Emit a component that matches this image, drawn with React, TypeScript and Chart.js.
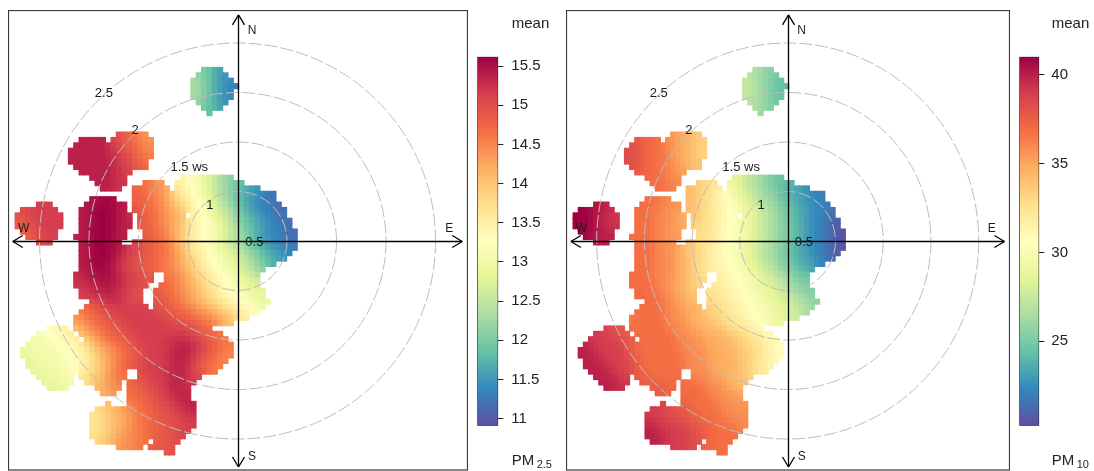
import React, { useEffect, useRef } from "react";
import { Chart, registerables } from "chart.js";

Chart.register(...registerables);

// Grid cells of each polar surface: "startColumn:levels" runs per row, a = lowest level, u = highest.
const pm25Rows: string[] = [
  "35:fedd","34:gfeddc","33:ggfeddcc","33:ggfeddccb","33:ggfeddcc","33:ggfeddcc","34:gfeddc","35:fedd","36:e","","","",
  "19:rrqqpo",
  "12:ttttt 18:srrqqppo",
  "11:tttttttssrrqqpp",
  "10:ttttttttssrrqqpp",
  "10:ttttttttsssrrqqp",
  "10:tttttttttssrrqq",
  "11:tttttttttssrrq",
  "12:tttttttsss",
  "14:tttttss 31:lkkjiihgff",
  "15:ttttss 24:qppo 30:llkjjiihggfee",
  "16:ttts 22:rqqqppo 30:mllkjjihggfeeddd",
  "22:rqqqpponmllkjjihggfeeddcccb",
  "14:ttuut 22:rqqqpponmllkjjihggfeddcccbb",
  "4:sss 13:ttuuuutt 22:rrqqqpponmmlkkjihhgfeddcccbb",
  "1:rssssss 12:ttuuuuutt 22:rrqqqppoonmlkkjihhgfeddcccbbb",
  "0:rrsssssss 12:ttuuuuuttt 23:rrqqppoon 33:lkkjihhgfeeddcccbb",
  "0:rrrssssss 12:ttuuuuuttt 23:rrqqppoonmllkkjiihgfeeddcccbb",
  "0:qrrrsssss 12:ttuuuuutts 23:rrqqqpoonmlkkkjiihgfeeddcccbb",
  "1:qrrssss 12:ttuuuuutt 24:rqqqpoonmlkkkjiihgffeddcccbbb",
  "2:qrrsss 11:tttuuuuutt 24:rrqqpoonmlkkkjiihggfeddccccbb",
  "4:rrs 12:ttuuuutt 22:srrrqqqponmllkkjiihggfeddccccbb",
  "12:ttuuuuuttssrrrqqqponmllkkjiihggfeeddccccb",
  "12:ttuuuuuttssrrrqqqpponmllkkjjiihggfeedddc",
  "12:ttuuuuutssrrrrqqqpponnmlkkjjiihhgfeeddc",
  "12:ttuuuutssrrrrqqqpponnmllkkjjiihggfeed",
  "12:ttuuuttssrrrrqqqqppoonmllkkjjiihhgf",
  "11:sttttuuuttsssrr 28:qqpponmmllkkjjihhg",
  "11:sttttuuttssssrr 28:qqppoonmmllkkjjiih",
  "11:sstttttttsssrr 27:rqqppoonmmllkkjjiih",
  "12:sstttttsssrr 26:rrqqppoonnmllkkkjjiii",
  "12:rsstttttssrr 26:rrqqqppoonmmllkkkjjii",
  "14:rssttsssrr 26:rrrqqppoonnmmllkkkjjii",
  "13:qrrrssssssss 26:rrrqqqppoonnmmlllkkkj",
  "12:pqqrrrsssssssssrrrrqqqpppoonmmllkk",
  "11:opqqqrrrsssssssssrrrrqqqqppoonnml",
  "11:opqqqrrrrssssssssssrrrrqqqppon",
  "6:klll 11:noopqqqrrrsssssssssssrrrqq",
  "4:jkkklll 12:noppqqqrrrssssssssssssrrqqp",
  "3:jjkkkkkll 13:nopqqqrrrsssssssssttssrrqqp",
  "2:jjjjjkkkkllmnoppqqrrrsssssttttt" + "sssrrqqp",
  "1:ijjjjjjkkkkllmnooppqqrrrsssssttttssrrqqp",
  "1:iijjjjjjkkkllmnooppqqrrssssstttttsrrqqpp",
  "2:iijjjjjkkkllmnoopqqrrrsssssttttsrrqqpp",
  "2:iijjjjjjkkllmnnopqqrrrssssstttsrrqqpp",
  "3:iijjjjjkkllmnnopqq 23:rsssssttttsrrqq",
  "4:iijjjjk 12:lmnnoppqq 23:rrsssstttsss",
  "5:iiijjj 13:mnnoppq 21:qrrrsssstttss",
  "6:iiij 15:noopp 21:qqrrrsssttts",
  "16:oop 21:qqqrrrssttts",
  "21:qqqrrrsssttt",
  "17:o 21:pqqqrrrrssttt",
  "15:mnnooopqqqrrrrssstt",
  "14:lmmnnooopqqqrrrrssst",
  "14:lmmnnooppqqqrrrrssss",
  "14:lmmnnooppqqqrrrrrsss",
  "14:lmmnnoopppqqqrrrrss",
  "14:mmnnoopppqqqrrrrss",
  "15:mnnoopppqq 26:rrrrs",
  "19:ppppq 25:qrrrr",
  "28:rr",
];

const pm10Rows: string[] = [
  "35:ggff","34:hggffe","33:hhggffee","33:hhggffeed","33:hhggffee","33:hhggffee","34:hggffe","35:ggff","36:g","","","",
  "19:pooonn",
  "12:rrqqq 18:ppooonnm",
  "11:rrrqqqqppooonnm",
  "10:srrrqqqqppooonnm",
  "10:srrrqqqqppooonnm",
  "10:srrrqqqqppooonn",
  "11:rrrqqqqpppoonn",
  "12:rrqqqqpppo",
  "14:qqqqppp 31:iihhggffee",
  "15:qqqqpp 24:nnmm 30:jiihhggffeeed",
  "16:qqqp 22:onnmmml 30:jiihhggffeeedddc",
  "22:onnmmllkkjiihhggffeedddcccb",
  "14:qqqqp 22:onnmmllkkjiihhggffeedddcccb",
  "4:utt 13:qqqqpppp 22:onnmmllkkjjiihhggffeedddcccb",
  "1:uuuttts 12:qqqqppppo 22:onnmmmllkkjjiihhggffeedddcccb",
  "0:uuuutttss 12:qqqqppppoo 23:nnmmllkkk 33:jiihhggfeeddccccbb",
  "0:uuuutttss 12:qqqqppppoo 23:nnmmllkkkjjiihhggffeeddcccbba",
  "0:uuuutttss 12:qqqqppppoo 23:nmmmllkkkjjiihhggffeeddcccbba",
  "1:uuutttt 12:qqqqppppo 24:mmmllkkkjjiihhggffeeddcccbbaa",
  "2:uutttt 11:qqqqqppppo 24:mmmllkkkjjiihhggffeeddcccbbaa",
  "4:ttt 12:qqqqpppo 22:nnmmmllkkkjjiihhggffeeddcccbbaa",
  "12:qqqqppppoonnmmllkkkjjiihhggffeeddccccbbaa",
  "12:qqqqppppoonnmmllkkkjjiihhggffeedddcccbba",
  "12:qqqqppppoonnmmlllkkkjjiihhggffeedddccbb",
  "12:qqqqppppoonnmmlllkkkjjiihhggffeedddcc",
  "12:qqqqppppoonnmmlllkkkjjiihhggffeeddd",
  "11:qqqqqppppoonnmm 28:lllkkkjjiihhggfffe",
  "11:qqqqqppppoonnmm 28:lllkkkjjiiihhggffe",
  "11:qqqqqpppooonnm 27:mlllkkkjjiiihhggffe",
  "12:qqqqqpppoonn 26:mmlllkkkjjjiiihhggffe",
  "12:rqqqqpppoonn 26:mmllllkkkjjjiihhhggff",
  "14:qqqqpppoon 26:nmmllllkkkjjjiiihhggff",
  "13:qqqqqpppooon 26:nmmmlllkkkjjjiiihhhgg",
  "12:qqqqqqppppooonnnmmmlllkkkjjjiihhgg",
  "11:pqqqqqqppppooonnnmmmlllkkkjjjiiih",
  "11:pqqqqqqppppooonnnmmmlllkkkjjji",
  "6:srrq 11:qqqqqqqqppppooooonnnmmmlll",
  "4:ssssrrr 12:qqqqqqqqppppooooonnnmmmllkk",
  "3:ssssssrrq 13:qqqqqqqpppppooooonnnmmmllkk",
  "2:ttssssssrrqqqqqqqqqpppppooooonnnmmmllkk",
  "1:tttssssssrrqqqqqqqqqpppppooooonnnmmmllkk",
  "1:ttttsssssrrqqqqqqqqqpppppoooooonnnmmllkk",
  "2:ttttsssssrrqqqqqqqqqpppppooooonnnmmllk",
  "2:ttttsssssrrqqqqqqqqqpppppooooonnmmllk",
  "3:ttttssssrrqqqqqqqq 23:ppppooooonnnmml",
  "4:ttttsss 12:rrqqqqqqq 23:ppppoooonnnm",
  "5:ttttss 13:rrqqqqq 21:qqqqppppooonn",
  "6:tttt 15:rrrqq 21:qqqqqppppooo",
  "16:rrr 21:qqqqqqppppoo",
  "21:rqqqqqpppppo",
  "17:r 21:rqqqqqqpppppo",
  "15:sssrrrrrqqqqqqppppp",
  "14:ssssrrrrrqqqqqqppppp",
  "14:tsssssrrrrqqqqqqpppp",
  "14:ttssssssrrrrqqqqqqpp",
  "14:tttssssssrrrqqqqqqp",
  "14:ttttsssssrrrrqqqqq",
  "15:tttssssssr 26:qqqqq",
  "19:sssrr 25:rqqqq",
  "28:qq",
];

const pm25Range = [10.91, 15.62];
const pm10Range = [20.24, 41.03];
const pm25Ticks = [11, 11.5, 12, 12.5, 13, 13.5, 14, 14.5, 15, 15.5];
const pm10Ticks = [25, 30, 35, 40];
const wsRings = [1, 1.5, 2, 2.5];
const spectral = ["#5E4FA2","#3288BD","#66C2A5","#ABDDA4","#E6F598","#FFFFBF","#FEE08B","#FDAE61","#F46D43","#D53E4F","#9E0142"];

const LEVELS = "abcdefghijklmnopqrstu";
const WS_ORIGIN = 0.5;

const hex = (h: string) => [1, 3, 5].map((i) => parseInt(h.slice(i, i + 2), 16));
function colorAt(t: number) {
  const p = Math.min(0.9999, Math.max(0, t)) * (spectral.length - 1);
  const i = Math.floor(p);
  const a = hex(spectral[i]);
  const b = hex(spectral[i + 1]);
  const c = a.map((v, k) => Math.round(v + (b[k] - v) * (p - i)));
  return `rgb(${c[0]},${c[1]},${c[2]})`;
}

function cells(rows: string[], range: number[]) {
  const x0 = -2.22, dx = 0.0538, y0 = 1.727, dy = 0.0544;
  const grid = new Map<string, number>();
  rows.forEach((row, r) => {
    row.split(" ").filter(Boolean).forEach((run) => {
      const [start, levels] = run.split(":");
      [...levels].forEach((ch, k) => {
        grid.set(`${r},${Number(start) + k}`, LEVELS.indexOf(ch) / (LEVELS.length - 1));
      });
    });
  });
  // The levels were read by eye per row: even out the reading noise between neighbouring cells.
  const settle = (src: Map<string, number>) => {
    const out = new Map<string, number>();
    src.forEach((_, key) => {
      const [r, c] = key.split(",").map(Number);
      let sum = 0, n = 0;
      for (let i = -1; i <= 1; i++) for (let j = -1; j <= 1; j++) {
        const v = src.get(`${r + i},${c + j}`);
        if (v !== undefined) { sum += v; n++; }
      }
      out.set(key, sum / n);
    });
    return out;
  };
  const even = settle(settle(grid));
  const pts: { x: number; y: number; v: number }[] = [];
  even.forEach((t, key) => {
    const [r, c] = key.split(",").map(Number);
    pts.push({ x: x0 + dx * c, y: y0 - dy * r, v: range[0] + t * (range[1] - range[0]) });
  });
  return pts;
}

const FONT = '"Liberation Sans", Arial, sans-serif';

const polarDecor = {
  id: "polarDecor",
  afterDatasetsDraw(chart: any) {
    const { ctx, scales: { x, y } } = chart;
    const px = (v: number) => x.getPixelForValue(v);
    const py = (v: number) => y.getPixelForValue(v);
    ctx.save();
    ctx.strokeStyle = "#bdbdbd";
    ctx.lineWidth = 1;
    ctx.setLineDash([13, 3]);
    wsRings.forEach((ws) => {
      const r = ws - WS_ORIGIN;
      ctx.beginPath();
      ctx.ellipse(px(0), py(0), Math.abs(px(r) - px(0)), Math.abs(py(r) - py(0)), 0, 0, Math.PI * 2);
      ctx.stroke();
    });
    ctx.setLineDash([]);
    ctx.strokeStyle = "#000";
    ctx.lineWidth = 1.3;
    const hx = 2.27, hy = 2.283;
    const line = (a: number, b: number, c: number, d: number) => {
      ctx.beginPath(); ctx.moveTo(a, b); ctx.lineTo(c, d); ctx.stroke();
    };
    const cx = Math.round(px(0)) + 0.5, cy = Math.round(py(0)) + 0.5;
    line(cx, py(hy), cx, py(-hy));
    line(px(-hx), cy, px(hx), cy);
    [[cx, py(hy), 1, 0], [cx, py(-hy), -1, 0]].forEach(([a, b, s]) => {
      line(a, b, a - 6, b + s * 10); line(a, b, a + 6, b + s * 10);
    });
    [[px(-hx), cy, 1], [px(hx), cy, -1]].forEach(([a, b, s]) => {
      line(a, b, a + s * 10, b - 6); line(a, b, a + s * 10, b + 6);
    });
    ctx.fillStyle = "#1c1c1c";
    ctx.textAlign = "center";
    ctx.textBaseline = "middle";
    ctx.font = `13px ${FONT}`;
    ([["0.5", 0.17, -0.015], ["1", -0.278, 0.364], ["1.5 ws", -0.487, 0.747], ["2", -1.035, 1.121], ["2.5", -1.35, 1.495]] as [string, number, number][]).forEach(([t, a, b]) => ctx.fillText(t, px(a), py(b)));
    ctx.font = `12px ${FONT}`;
    ([["N", 0.147, 2.125], ["S", 0.147, -2.182], ["W", -2.16, 0.121], ["E", 2.138, 0.121]] as [string, number, number][]).forEach(([t, a, b]) => ctx.fillText(t, px(a), py(b)));
    ctx.strokeStyle = "#3a3a3a";
    ctx.lineWidth = 1.2;
    ctx.strokeRect(0.5, 0.5, chart.width - 1, chart.height - 1.5);
    ctx.restore();
  },
};

function keyText(name: string, sub: string, textX: number, subX: number) {
  return {
    id: "keyText",
    afterDraw(chart: any) {
      const { ctx } = chart;
      ctx.save();
      ctx.fillStyle = "#222";
      ctx.textBaseline = "alphabetic";
      ctx.textAlign = "left";
      ctx.font = `15px ${FONT}`;
      ctx.fillText("mean", textX, 28);
      ctx.fillText(name, textX, 465);
      ctx.font = `11px ${FONT}`;
      ctx.fillText(sub, subX, 468);
      ctx.restore();
    },
  };
}

function makePolar(canvas: HTMLCanvasElement, rows: string[], range: number[], xr: number[]) {
  const pts = cells(rows, range);
  return new Chart(canvas, {
    type: "scatter",
    data: {
      datasets: [{
        data: pts,
        pointStyle: "rect",
        pointRadius: 4.4,
        pointBorderWidth: 0,
        pointBackgroundColor: pts.map((p) => colorAt((p.v - range[0]) / (range[1] - range[0]))),
      }],
    },
    options: {
      responsive: false,
      animation: false,
      events: [],
      layout: { padding: 0, autoPadding: false },
      plugins: { legend: { display: false }, tooltip: { enabled: false } },
      scales: {
        x: { type: "linear", display: false, min: xr[0], max: xr[1] },
        y: { type: "linear", display: false, min: -2.323, max: 2.333 },
      },
    },
    plugins: [polarDecor],
  } as any);
}

function makeKey(canvas: HTMLCanvasElement, range: number[], ticks: number[], axisWidth: number, gap: number, name: string, sub: string, textX: number, subX: number) {
  return new Chart(canvas, {
    type: "bar",
    data: {
      labels: ["mean"],
      datasets: [{
        data: [range],
        barPercentage: 1,
        categoryPercentage: 1,
        borderWidth: 1,
        borderColor: "#222",
        borderSkipped: false,
        backgroundColor: (c: any) => {
          const a = c.chart.chartArea;
          if (!a) return spectral[0];
          const g = c.chart.ctx.createLinearGradient(0, a.bottom, 0, a.top);
          spectral.forEach((s, i) => g.addColorStop(i / (spectral.length - 1), s));
          return g;
        },
      }],
    },
    options: {
      responsive: false,
      animation: false,
      events: [],
      layout: { padding: { left: 7.3, top: 56.7, bottom: 45.3, right: 0 } },
      plugins: { legend: { display: false }, tooltip: { enabled: false } },
      scales: {
        x: { display: false },
        y: {
          position: "right",
          min: range[0],
          max: range[1],
          afterBuildTicks: (s: any) => { s.ticks = ticks.map((value) => ({ value })); },
          afterFit: (s: any) => { s.width = axisWidth; },
          border: { display: false },
          grid: { drawOnChartArea: false, tickLength: 5, tickColor: "#222", tickWidth: 1 },
          ticks: {
            padding: gap,
            autoSkip: false,
            color: "#222",
            font: { family: FONT, size: 15 },
            callback: (v: any) => String(v),
          },
        },
      },
    },
    plugins: [keyText(name, sub, textX, subX)],
  } as any);
}

export default function App() {
  const a = useRef<HTMLCanvasElement>(null);
  const b = useRef<HTMLCanvasElement>(null);
  const c = useRef<HTMLCanvasElement>(null);
  const d = useRef<HTMLCanvasElement>(null);
  useEffect(() => {
    const charts = [
      makePolar(a.current!, pm25Rows, pm25Range, [-2.318, 2.328]),
      makeKey(b.current!, pm25Range, pm25Ticks, 61.7, 8, "PM", "2.5", 41.7, 66.7),
      makePolar(c.current!, pm10Rows, pm10Range, [-2.321, 2.328]),
      makeKey(d.current!, pm10Range, pm10Ticks, 54.7, 7, "PM", "10", 39.7, 64.7),
    ];
    return () => charts.forEach((x) => x.destroy());
  }, []);
  const at = (left: number, top: number): React.CSSProperties => ({ position: "absolute", left, top });
  return (
    <div style={{ position: "absolute", left: 0, top: 0, width: 1094, height: 471, overflow: "hidden", background: "#fff" }}>
      <canvas ref={a} width={460} height={461} style={at(8, 10)} />
      <canvas ref={b} width={90} height={471} style={at(470, 0)} />
      <canvas ref={c} width={444} height={461} style={at(566, 10)} />
      <canvas ref={d} width={82} height={471} style={at(1012, 0)} />
    </div>
  );
}
